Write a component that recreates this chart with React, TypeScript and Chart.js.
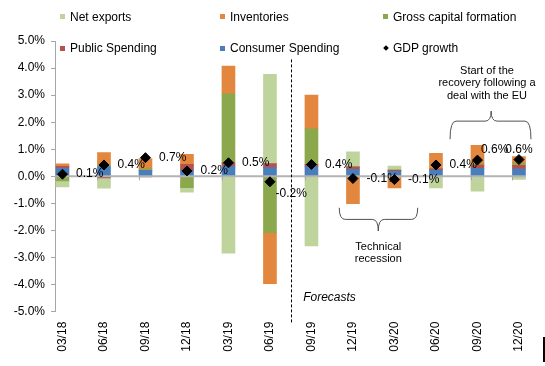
import React, { useEffect, useRef } from "react";
import { Chart, registerables } from "chart.js";

Chart.register(...registerables);

// ---------- data ----------
const categories = ["03/18", "06/18", "09/18", "12/18", "03/19", "06/19", "09/19", "12/19", "03/20", "06/20", "09/20", "12/20"];
const consumerSpending = [0.31, 0.36, 0.22, 0.23, 0.38, 0.32, 0.36, 0.26, 0.19, 0.23, 0.30, 0.28];
const publicSpending = [0.06, -0.06, -0.02, 0.21, 0.12, 0.15, 0.08, 0.09, 0.04, 0.05, 0.12, 0.13];
const grossCapitalFormation = [-0.17, 0.06, 0.06, -0.42, 2.55, -2.08, 1.32, 0, 0, 0, 0.05, 0.09];
const inventories = [0.09, 0.46, 0.37, 0.37, 1.02, -1.88, 1.24, -1.01, -0.43, 0.57, 0.68, 0.23];
const netExports = [-0.22, -0.38, 0, -0.16, -2.84, 3.3, -2.57, 0.56, 0.15, -0.43, -0.55, -0.11];
const gdpGrowth = [0.08, 0.42, 0.69, 0.2, 0.5, -0.2, 0.44, -0.08, -0.12, 0.42, 0.6, 0.62];
const gdpLabelPlacement = ["right", "right", "right", "right", "right", "belowRight", "right", "right", "right", "right", "aboveRight", "above"];

// ---------- styles ----------
const FONT = "'Liberation Sans', Arial, Helvetica, sans-serif";
const C_NET = "#BED49C";
const C_INV = "#E2873D";
const C_GCF = "#8BA84D";
const C_PUB = "#B9504C";
const C_CON = "#4A7EBB";
const AXIS_GRAY = "#a6a6a6";

// annotation positions in data units (x = category index, y = %)
const forecastDivider = { x: 5.5, yTop: 4.32, yBottom: -5.47 };
const forecastText = { x: 5.8, y: -4.47, text: "Forecasts" };
const recoveryBrace = { left: 9.34, right: 11.29, tip: 10.33, yEnd: 1.37, yMid: 2.04, yTip: 2.41 };
const recoveryText = { x: 10.23, y: 3.89, lines: ["Start of the", "recovery following a", "deal with the EU"] };
const recessionBrace = { left: 6.67, right: 8.56, tip: 7.61, yEnd: -1.16, yMid: -1.59, yTip: -2.02 };
const recessionText = { x: 7.61, y: -2.61, lines: ["Technical", "recession"] };

const toXY = (arr: number[]) => arr.map((v, i) => ({ x: i, y: v }));

function drawBrace(ctx: CanvasRenderingContext2D, L: number, R: number, M: number, yEnd: number, yMid: number, yTip: number) {
  const r = 6;
  ctx.beginPath();
  ctx.moveTo(L, yEnd);
  ctx.quadraticCurveTo(L, yMid, L + r, yMid);
  ctx.lineTo(M - r, yMid);
  ctx.quadraticCurveTo(M, yMid, M, yTip);
  ctx.moveTo(M, yTip);
  ctx.quadraticCurveTo(M, yMid, M + r, yMid);
  ctx.lineTo(R - r, yMid);
  ctx.quadraticCurveTo(R, yMid, R, yEnd);
  ctx.stroke();
}

const overlayPlugin = {
  id: "overlay",
  beforeDatasetDraw(chart: any, args: any) {
    if (chart.data.datasets[args.index].label !== "GDP growth") return;
    const { ctx, chartArea, scales } = chart;
    const y0 = scales.y.getPixelForValue(0);
    ctx.save();
    ctx.strokeStyle = "#b3b3b3";
    ctx.lineWidth = 2;
    ctx.beginPath();
    ctx.moveTo(chartArea.left, y0);
    ctx.lineTo(chartArea.right, y0);
    ctx.stroke();
    const meta = chart.getDatasetMeta(0);
    ctx.strokeStyle = AXIS_GRAY;
    ctx.lineWidth = 1;
    meta.data.forEach((bar: any) => {
      const p = bar.getProps(["x", "width"], true);
      const bx = Math.round(p.x - p.width / 2) + 0.5;
      ctx.beginPath();
      ctx.moveTo(bx, y0);
      ctx.lineTo(bx, y0 + 4);
      ctx.stroke();
    });
    ctx.restore();
  },
  afterDatasetsDraw(chart: any) {
    const { ctx, scales } = chart;
    const xs = scales.x;
    const ys = scales.y;
    ctx.save();
    // GDP labels
    const gi = chart.data.datasets.findIndex((d: any) => d.label === "GDP growth");
    const gmeta = chart.getDatasetMeta(gi);
    ctx.font = `12px ${FONT}`;
    ctx.fillStyle = "#000";
    ctx.textBaseline = "middle";
    gmeta.data.forEach((pt: any, i: number) => {
      const txt = gdpGrowth[i].toFixed(1) + "%";
      const pl = gdpLabelPlacement[i];
      let dx = 13.5, dy = 0, align: CanvasTextAlign = "left";
      if (pl === "belowRight") { dx = 5.5; dy = 12; }
      else if (pl === "aboveRight") { dx = 3.5; dy = -10; }
      else if (pl === "above") { dx = 0; dy = -10; align = "center"; }
      ctx.textAlign = align;
      ctx.fillText(txt, pt.x + dx, pt.y + dy);
    });
    // forecast divider
    const dxp = Math.round(xs.getPixelForValue(forecastDivider.x)) + 0.5;
    ctx.strokeStyle = "#000";
    ctx.lineWidth = 1;
    ctx.setLineDash([3, 2]);
    ctx.beginPath();
    ctx.moveTo(dxp, ys.getPixelForValue(forecastDivider.yTop));
    ctx.lineTo(dxp, ys.getPixelForValue(forecastDivider.yBottom));
    ctx.stroke();
    ctx.setLineDash([]);
    // Forecasts text
    ctx.font = `italic 12px ${FONT}`;
    ctx.textAlign = "left";
    ctx.fillText(forecastText.text, xs.getPixelForValue(forecastText.x), ys.getPixelForValue(forecastText.y));
    // braces
    ctx.strokeStyle = "#505050";
    ctx.lineWidth = 1;
    for (const b of [recoveryBrace, recessionBrace]) {
      drawBrace(
        ctx,
        xs.getPixelForValue(b.left),
        xs.getPixelForValue(b.right),
        xs.getPixelForValue(b.tip),
        ys.getPixelForValue(b.yEnd),
        ys.getPixelForValue(b.yMid),
        ys.getPixelForValue(b.yTip)
      );
    }
    // annotation texts
    ctx.font = `11px ${FONT}`;
    ctx.textAlign = "center";
    for (const t of [recoveryText, recessionText]) {
      const cx = xs.getPixelForValue(t.x);
      const cy = ys.getPixelForValue(t.y);
      t.lines.forEach((ln, k) => ctx.fillText(ln, cx, cy + k * 12.3));
    }
    ctx.restore();
  },
};

const legendItems = [
  { label: "Net exports", color: C_NET, kind: "box", col: 0, row: 0 },
  { label: "Inventories", color: C_INV, kind: "box", col: 1, row: 0 },
  { label: "Gross capital formation", color: C_GCF, kind: "box", col: 2, row: 0 },
  { label: "Public Spending", color: C_PUB, kind: "box", col: 0, row: 1 },
  { label: "Consumer Spending", color: C_CON, kind: "box", col: 1, row: 1 },
  { label: "GDP growth", color: "#000", kind: "diamond", col: 2, row: 1 },
];
const legendColX = [60, 220, 383];
const legendRowY = [16.7, 48.3];

export default function App() {
  const canvasRef = useRef<HTMLCanvasElement | null>(null);

  useEffect(() => {
    const canvas = canvasRef.current;
    if (!canvas) return;
    const chart = new Chart(canvas, {
      type: "bar",
      data: {
        datasets: [
          { type: "bar", label: "Consumer Spending", data: toXY(consumerSpending), backgroundColor: C_CON, order: 1 },
          { type: "bar", label: "Public Spending", data: toXY(publicSpending), backgroundColor: C_PUB, order: 1 },
          { type: "bar", label: "Gross capital formation", data: toXY(grossCapitalFormation), backgroundColor: C_GCF, order: 1 },
          { type: "bar", label: "Inventories", data: toXY(inventories), backgroundColor: C_INV, order: 1 },
          { type: "bar", label: "Net exports", data: toXY(netExports), backgroundColor: C_NET, order: 1 },
          {
            type: "line",
            label: "GDP growth",
            data: toXY(gdpGrowth),
            showLine: false,
            stack: "gdp",
            order: 0,
            pointStyle: "rectRot",
            pointRadius: 5,
            pointBackgroundColor: "#000",
            pointBorderColor: "#000",
            pointBorderWidth: 1,
            backgroundColor: "#000",
            borderColor: "#000",
          } as any,
        ],
      },
      options: {
        responsive: false,
        animation: false,
        devicePixelRatio: 1,
        barThickness: 13,
        layout: { padding: { left: 0, right: 19, top: 41, bottom: 0 } },
        plugins: { legend: { display: false }, tooltip: { enabled: false } },
        scales: {
          x: {
            type: "linear",
            min: -0.18,
            max: 11.17,
            stacked: true,
            offset: false,
            afterBuildTicks: (s: any) => {
              s.ticks = categories.map((_, i) => ({ value: i }));
            },
            afterFit: (s: any) => {
              s.height = 54.3;
            },
            grid: { display: false, drawTicks: false },
            border: { display: false },
            ticks: {
              autoSkip: false,
              maxRotation: 90,
              minRotation: 90,
              padding: 10,
              color: "#000",
              font: { size: 12, family: FONT },
              callback: (v: any) => categories[Math.round(Number(v))] ?? "",
            },
          },
          y: {
            min: -5,
            max: 5,
            stacked: true,
            afterFit: (s: any) => {
              s.width = 55;
            },
            ticks: {
              stepSize: 1,
              padding: 6,
              color: "#000",
              font: { size: 12, family: FONT },
              callback: (v: any) => Number(v).toFixed(1) + "%",
            },
            grid: { drawOnChartArea: false, drawTicks: true, tickLength: 4, color: AXIS_GRAY, tickColor: AXIS_GRAY },
            border: { display: true, color: AXIS_GRAY, width: 1 },
          },
        },
      } as any,
      plugins: [overlayPlugin],
    });
    return () => chart.destroy();
  }, []);

  return (
    <div style={{ position: "fixed", left: 0, top: 0, width: 545, height: 366, background: "#fff", fontFamily: FONT, overflow: "hidden" }}>
      <canvas ref={canvasRef} width={545} height={366} style={{ display: "block", position: "absolute", left: 0, top: 0 }} />
      {legendItems.map((it) => (
        <div
          key={it.label}
          style={{ position: "absolute", left: legendColX[it.col], top: legendRowY[it.row] - 7, height: 14, lineHeight: "14px", fontSize: 12, color: "#000", whiteSpace: "nowrap" }}
        >
          {it.kind === "box" ? (
            <span style={{ position: "absolute", left: 0, top: 4.5, width: 5, height: 5, background: it.color }} />
          ) : (
            <span style={{ position: "absolute", left: 1, top: 5, width: 4, height: 4, background: it.color, transform: "rotate(45deg)" }} />
          )}
          <span style={{ position: "absolute", left: 10, top: 0 }}>{it.label}</span>
        </div>
      ))}
      <div style={{ position: "absolute", left: 543, top: 337, width: 1.5, height: 25, background: "#000" }} />
    </div>
  );
}
